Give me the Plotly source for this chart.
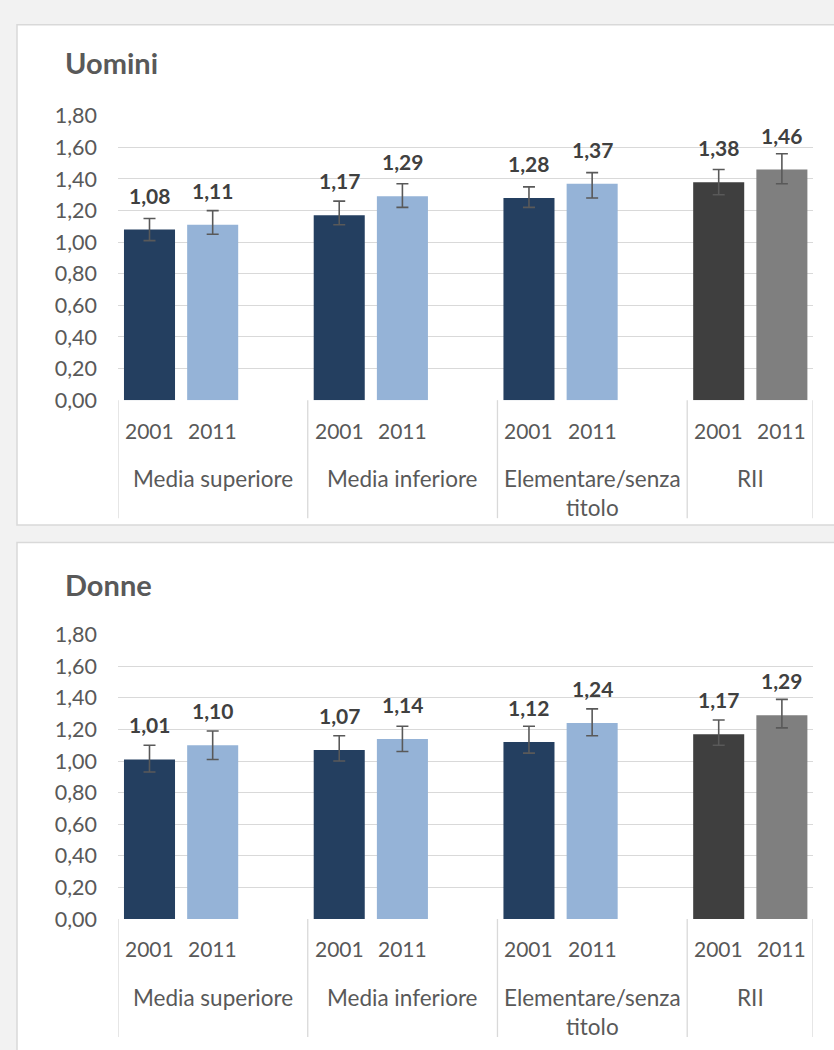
import plotly.graph_objects as go

# ---------------- data ----------------
years = ["2001", "2011"]
categories = ["Media superiore", "Media inferiore", "Elementare/senza<br>titolo", "RII"]
y_ticks = [0, 0.2, 0.4, 0.6, 0.8, 1.0, 1.2, 1.4, 1.6, 1.8]

uomini_2001 = [1.08, 1.17, 1.28, 1.38]
uomini_2011 = [1.11, 1.29, 1.37, 1.46]
uomini_2001_hi = [1.15, 1.26, 1.35, 1.46]
uomini_2001_lo = [1.01, 1.11, 1.22, 1.30]
uomini_2011_hi = [1.20, 1.37, 1.44, 1.56]
uomini_2011_lo = [1.05, 1.22, 1.28, 1.37]

donne_2001 = [1.01, 1.07, 1.12, 1.17]
donne_2011 = [1.10, 1.14, 1.24, 1.29]
donne_2001_hi = [1.10, 1.16, 1.22, 1.26]
donne_2001_lo = [0.93, 1.00, 1.05, 1.10]
donne_2011_hi = [1.19, 1.22, 1.33, 1.39]
donne_2011_lo = [1.01, 1.06, 1.16, 1.21]

panel_titles = ["Uomini", "Donne"]

# ---------------- styles ----------------
FONT = "Lato, 'Open Sans', sans-serif"
C_2001 = ["#243F60", "#243F60", "#243F60", "#3F3F3F"]
C_2011 = ["#95B3D7", "#95B3D7", "#95B3D7", "#7F7F7F"]
GRID = "#D9D9D9"
TXT = "#595959"
LBL = "#404040"

W, H = 834, 1050
x_dom = [118 / W, 813 / W]
panels = [
    dict(data=(uomini_2001, uomini_2011, uomini_2001_hi, uomini_2001_lo, uomini_2011_hi, uomini_2011_lo),
         y_dom=[1 - 397 / H, 1 - 105.4 / H], title_y=1 - 51 / H,
         rect=(1 - 525 / H, 1 - 12 / H), ax=""),
    dict(data=(donne_2001, donne_2011, donne_2001_hi, donne_2001_lo, donne_2011_hi, donne_2011_lo),
         y_dom=[1 - 929 / H, 1 - 637.4 / H], title_y=1 - 586 / H,
         rect=(-0.02, 1 - 543 / H), ax="2"),
]

BAR_W = 0.269
OFFS = [0.166, 0.499]
X_END = 3.663

fig = go.Figure()
shapes = []
annotations = []

for p_i, p in enumerate(panels):
    v01, v11, h01, l01, h11, l11 = p["data"]
    xr, yr = "x" + p["ax"], "y" + p["ax"]
    ngroups = len(categories)
    for s_i, (vals, hi, lo, cols) in enumerate([(v01, h01, l01, C_2001), (v11, h11, l11, C_2011)]):
        xs = [g + OFFS[s_i] for g in range(ngroups)]
        fig.add_trace(go.Bar(
            x=xs, y=vals, width=BAR_W, marker=dict(color=cols, line=dict(width=0)),
            error_y=dict(type="data", symmetric=False,
                         array=[h - v for h, v in zip(hi, vals)],
                         arrayminus=[v - l for v, l in zip(vals, lo)],
                         color="#595959", thickness=1.6, width=6),
            xaxis=xr, yaxis=yr, showlegend=False, hoverinfo="skip"))
        for x, v in zip(xs, vals):
            annotations.append(dict(x=x, y=v, xref=xr, yref=yr, text=f"{v:.2f}".replace(".", ","),
                                    showarrow=False, yanchor="bottom", yshift=20,
                                    font=dict(family=FONT, size=21, color=LBL, weight="bold")))
            annotations.append(dict(x=x, y=0, xref=xr, yref=yr + " domain", text=years[s_i],
                                    showarrow=False, yanchor="middle", yshift=-30,
                                    font=dict(family=FONT, size=21, color=TXT)))
    # category labels
    for g, cat in enumerate(categories):
        right = min(g + 1, X_END)
        annotations.append(dict(x=(g + right) / 2, y=0, xref=xr, yref=yr + " domain", text=cat,
                                showarrow=False, yanchor="top", yshift=-63,
                                font=dict(family=FONT, size=22.5, color=TXT)))
    # dividers
    for xv in [0, 1, 2, 3, X_END]:
        shapes.append(dict(type="line", xref=xr, yref=yr + " domain", x0=xv, x1=xv,
                           y0=0, y1=-121 / 291.6, line=dict(color=GRID, width=1.3)))
    # panel background
    shapes.append(dict(type="rect", xref="paper", yref="paper", x0=17 / W, x1=1.02,
                       y0=p["rect"][0], y1=p["rect"][1], layer="below",
                       fillcolor="white", line=dict(color=GRID, width=1.5)))
    # title
    annotations.append(dict(x=63 / W, y=p["title_y"], xref="paper", yref="paper",
                            text=panel_titles[p_i], showarrow=False, xanchor="left", yanchor="middle",
                            font=dict(family=FONT, size=29, color=TXT, weight="bold")))

axis_common_x = dict(range=[0, X_END], showgrid=False, zeroline=False, showline=False,
                     showticklabels=False, ticks="", domain=x_dom, fixedrange=True)
axis_common_y = dict(range=[0, 1.8], tickvals=y_ticks, tickformat=".2f", showgrid=True,
                     gridcolor=GRID, gridwidth=1.3, zeroline=False, showline=False, ticks="",
                     ticklabelstandoff=20, tickfont=dict(family=FONT, size=21.5, color=TXT),
                     fixedrange=True)

fig.update_layout(
    width=W, height=H, margin=dict(l=0, r=0, t=0, b=0),
    paper_bgcolor="#F2F2F2", plot_bgcolor="rgba(0,0,0,0)",
    separators=",.", barmode="overlay", showlegend=False,
    xaxis=dict(**axis_common_x, anchor="y"),
    yaxis=dict(**axis_common_y, domain=panels[0]["y_dom"], anchor="x"),
    xaxis2=dict(**axis_common_x, anchor="y2"),
    yaxis2=dict(**axis_common_y, domain=panels[1]["y_dom"], anchor="x2"),
    shapes=shapes, annotations=annotations,
)

fig.write_html(
    "out.html",
    config={"displayModeBar": False},
    post_script="document.body.style.margin='0';document.body.style.background='#F2F2F2';"
                "document.body.style.overflow='hidden';",
)
